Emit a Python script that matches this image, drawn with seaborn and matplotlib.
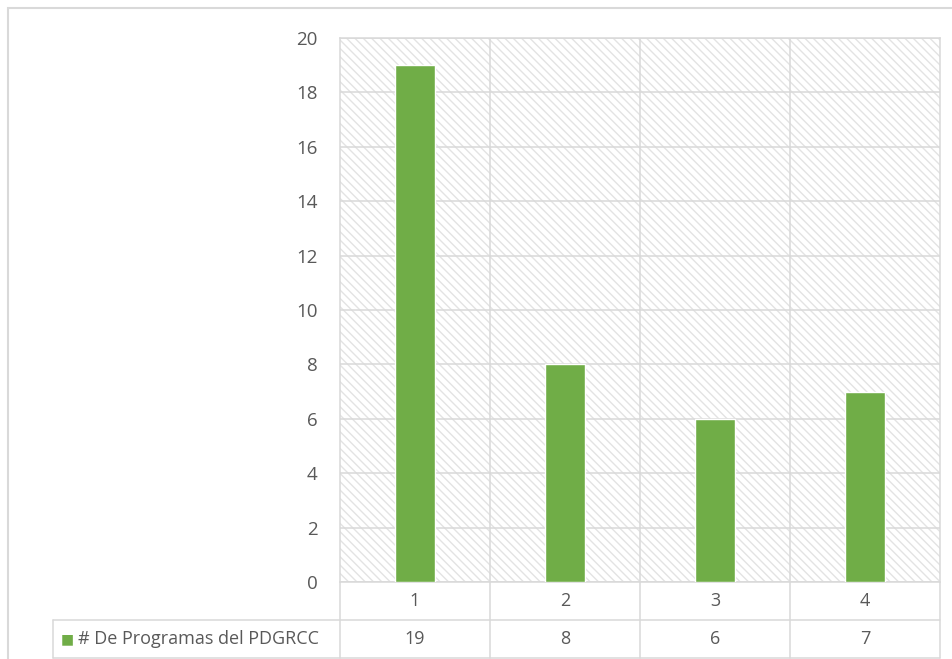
import matplotlib
matplotlib.use("Agg")
import matplotlib.pyplot as plt
import matplotlib.transforms as mtransforms
import seaborn as sns
import pandas as pd
from matplotlib.patches import Rectangle

# data
categories = ["1", "2", "3", "4"]
values = [19, 8, 6, 7]
series_name = "# De Programas del PDGRCC"

green = "#70AD47"
grid_gray = "#D9D9D9"
text_gray = "#595959"

sns.set_theme(style="white")
plt.rcParams['font.family'] = ['Open Sans', 'DejaVu Sans']
plt.rcParams['hatch.color'] = '#E3E3E3'
plt.rcParams['hatch.linewidth'] = 1.0

W, H = 953, 659
fig = plt.figure(figsize=(W / 100, H / 100), dpi=100)
ax = fig.add_axes([340 / W, (H - 582) / H, 600 / W, 544 / H])

df = pd.DataFrame({"cat": categories, "val": values})
sns.barplot(data=df, x="cat", y="val", color=green, width=0.27,
            saturation=1, ax=ax, zorder=3)

# hatched plot area background
ax.add_patch(Rectangle((0, 0), 1, 1, transform=ax.transAxes, facecolor="white",
                       edgecolor="#E3E3E3", linewidth=0, hatch="\\\\\\\\",
                       zorder=0))

ax.set_ylim(0, 20)
ax.set_xlim(-0.5, len(categories) - 0.5)
ax.set_yticks(range(0, 21, 2))
ax.set_xticks([])
ax.set_xticks([i + 0.5 for i in range(len(categories) - 1)], minor=True)
ax.tick_params(axis="y", length=0, pad=16, labelsize=13.5, labelcolor=text_gray)
ax.tick_params(axis="x", which="both", length=0, labelbottom=False)
ax.grid(True, axis="y", color=grid_gray, linewidth=1.1, zorder=1)
ax.grid(True, axis="x", which="minor", color=grid_gray, linewidth=1.1, zorder=1)
ax.set_axisbelow(True)
ax.set_xlabel("")
ax.set_ylabel("")
for s in ax.spines.values():
    s.set_color(grid_gray)
    s.set_linewidth(1.1)

# data table under the plot (axes coordinates)
r1 = -38 / 544
r2 = -76 / 544
lx = -287 / 600
line_kw = dict(color=grid_gray, linewidth=1.1, transform=ax.transAxes,
               clip_on=False)
ax.plot([lx, 1], [r1, r1], **line_kw)
ax.plot([lx, 1], [r2, r2], **line_kw)
ax.plot([lx, lx], [r1, r2], **line_kw)
for i in range(len(categories) + 1):
    xb = i / len(categories)
    ax.plot([xb, xb], [0, r2], **line_kw)

blend = mtransforms.blended_transform_factory(ax.transData, ax.transAxes)
for i, (c, v) in enumerate(zip(categories, values)):
    ax.text(i, r1 / 2, c, transform=blend, ha="center", va="center",
            fontsize=13, color=text_gray)
    ax.text(i, (r1 + r2) / 2, str(v), transform=blend, ha="center",
            va="center", fontsize=13, color=text_gray)

# legend key and series name in the row label cell
ax.text(-279 / 600, (r1 + r2) / 2, "■", transform=ax.transAxes, color=green,
        fontsize=10, va="center", ha="left", family="DejaVu Sans")
ax.text(-262 / 600, (r1 + r2) / 2, series_name, transform=ax.transAxes,
        fontsize=13, va="center", ha="left", color=text_gray)

# outer chart border
fig.patches.append(Rectangle((8 / W, -0.1), 1.2, 1.1 - 8 / H,
                             transform=fig.transFigure, fill=False,
                             edgecolor=grid_gray, linewidth=1.5))

fig.savefig("out.png", dpi=100)
